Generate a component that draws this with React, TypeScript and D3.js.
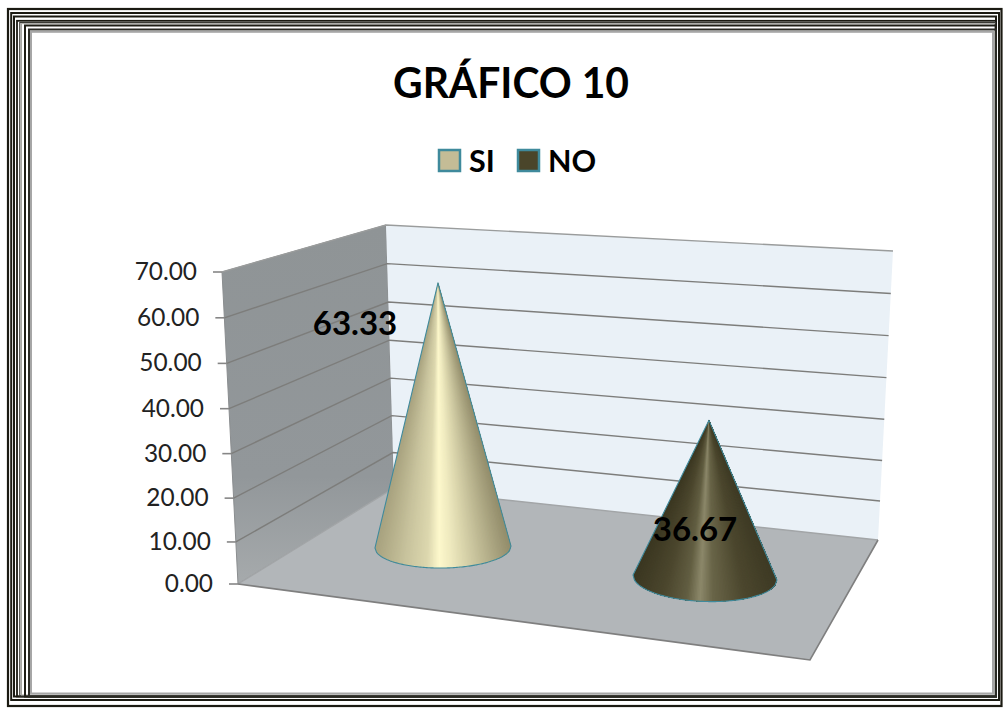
import React from "react";
import * as d3 from "d3";

// Chart content
const chartTitle = "GRÁFICO 10";
const categories = ["SI", "NO"];
const seriesValues = [63.33, 36.67];
const axisTicks = [0, 10, 20, 30, 40, 50, 60, 70];
const legendFills = ["#c4bc96", "#4a452a"];

const W = 1003;
const H = 708;
const sans = "Lato, 'Open Sans', sans-serif";
const TEAL = "#3f8a9c";

type Pt = [number, number];
const pathLine = d3.line<Pt>();
const poly = (pts: Pt[]) => pathLine(pts) + "Z";

// Corners of the 3D box: each vertical edge runs from the value 0 to the value 70.
const frontEdge: [Pt, Pt] = [[238, 584], [222, 272]];
const backEdge: [Pt, Pt] = [[394, 488], [386, 225]];
const rightEdge: [Pt, Pt] = [[878, 540], [893, 251]];
const floorFront: Pt = [810, 660];

// Slightly non-linear so tick spacing grows towards the top of the box.
const edgeScale = (edge: [Pt, Pt]) => {
  const t = d3.scalePow().exponent(1.03).domain([0, 70]).range([0, 1]);
  return (v: number): Pt => [
    edge[0][0] + (edge[1][0] - edge[0][0]) * t(v),
    edge[0][1] + (edge[1][1] - edge[0][1]) * t(v),
  ];
};
const onFront = edgeScale(frontEdge);
const onBack = edgeScale(backEdge);
const onRight = edgeScale(rightEdge);

// Placement of each cone on the floor, and the height of the full axis at its depth.
const coneLayout = [
  { cx: 443, cy: 547, rx: 68, ry: 21, tilt: -0.8, lean: -5, fullH: 292 },
  { cx: 705, cy: 577.5, rx: 72, ry: 24, tilt: 2, lean: 4, fullH: 300 },
];
const coneShadeAt = [0, 0.22, 0.38, 0.47, 0.56, 0.78, 1];
const coneShades = [
  ["#a8a27f", "#c8c39d", "#dcd7ae", "#fdf8cc", "#eee9be", "#c0bb95", "#938d6b"],
  ["#3b3721", "#4c472e", "#625e42", "#8c886a", "#696548", "#4c472e", "#3e3a24"],
];
const SLICES = 90;

// Nested page border, outermost first: left, top, right, bottom, stroke width, colour.
const borderRings: [number, number, number, number, number, string][] = [
  [8, 9, 1001.5, 706, 2.2, "#1b1a12"],
  [11.2, 13, 999, 700, 2, "#1b1a12"],
  [14, 16.5, 996, 696.5, 2, "#1b1a12"],
  [17, 20.8, 996, 696.5, 1.8, "#1b1a12"],
  [19.8, 22.5, 995.5, 696, 1.2, "#3a3a34"],
  [21.5, 23.6, 994.5, 695, 1, "#a8a8a4"],
  [25, 25.5, 996, 696.5, 2, "#1f1e16"],
  [29, 29.5, 996, 696.5, 2, "#2a2a24"],
  [31, 31.8, 993, 693.5, 2, "#a6a6a6"],
];

export default function App() {
  const fmt = d3.format(".2f");

  // Apex and lower rim of a cone, the rim sampled from left to right.
  const coneGeometry = (i: number) => {
    const c = coneLayout[i];
    const h = d3.scaleLinear().domain([0, 70]).range([c.cy, c.cy - c.fullH]);
    const a = (c.tilt * Math.PI) / 180;
    const rim = d3.range(SLICES + 1).map((k): Pt => {
      const s = (2 * k) / SLICES - 1;
      const ex = c.rx * s;
      const ey = c.ry * Math.sqrt(Math.max(0, 1 - s * s));
      return [c.cx + ex * Math.cos(a) - ey * Math.sin(a), c.cy + ex * Math.sin(a) + ey * Math.cos(a)];
    });
    const apex: Pt = [c.cx + c.lean, h(seriesValues[i])];
    return { apex, rim };
  };

  return (
    <svg
      width={W}
      height={H}
      viewBox={`0 0 ${W} ${H}`}
      style={{ position: "absolute", left: 0, top: 0, background: "#fff" }}
    >
      <defs>
        <linearGradient id="leftWall" x1="0" y1="0" x2="0" y2="1">
          <stop offset="0" stopColor="#8f9496" />
          <stop offset="0.7" stopColor="#92979a" />
          <stop offset="1" stopColor="#a6aaac" />
        </linearGradient>
      </defs>

      {/* Page border */}
      {borderRings.map(([l, t, r, b, sw, col], i) => (
        <rect key={i} x={l} y={t} width={r - l} height={b - t} fill="none" stroke={col} strokeWidth={sw} />
      ))}

      {/* Title and legend */}
      <text x={511} y={98} textAnchor="middle" fontFamily={sans} fontWeight={700} fontSize={41.5} textLength={236} lengthAdjust="spacingAndGlyphs" fill="#000">
        {chartTitle}
      </text>
      {categories.map((name, i) => {
        const x = [439, 518][i];
        return (
          <g key={name}>
            <rect x={x} y={150} width={21} height={21} fill={legendFills[i]} stroke={TEAL} strokeWidth={2.5} />
            <text x={x + 30} y={171.5} fontFamily={sans} fontWeight={700} fontSize={30.5} fill="#000">
              {name}
            </text>
          </g>
        );
      })}

      {/* Walls and floor */}
      <path d={poly([onFront(0), onFront(70), onBack(70), onBack(0)])} fill="url(#leftWall)" stroke="#8a8d8f" strokeWidth={1} />
      <path d={poly([onBack(0), onBack(70), onRight(70), onRight(0)])} fill="#eaf1f7" stroke="none" />
      <path d={poly([onFront(0), onBack(0), onRight(0), floorFront])} fill="#b2b6b9" stroke="none" />

      {/* Gridlines, tick marks and axis labels */}
      {axisTicks.map((v) => {
        const f = onFront(v);
        const b = onBack(v);
        const r = onRight(v);
        return (
          <g key={v}>
            <path d={pathLine([f, b, r])!} fill="none" stroke={v === 0 ? "#a2a5a7" : v === 70 ? "#9a9c9c" : "#7d7d7b"} strokeWidth={1.4} />
            <path d={pathLine([[f[0] - 9, f[1]], f])!} fill="none" stroke="#868686" strokeWidth={1.6} />
            <text x={f[0] - 25} y={f[1] + 8} textAnchor="end" fontFamily={sans} fontSize={24.4} fill="#222">
              {fmt(v)}
            </text>
          </g>
        );
      })}

      {/* Floor edges nearest the viewer */}
      <path d={pathLine([onFront(0), floorFront, onRight(0)])!} fill="none" stroke="#7f7f7f" strokeWidth={1.6} />

      {/* Cones: shading converges on the apex; wedges are painted left to right,
          each one covering the rest of the cone, so no seams show between them */}
      {categories.map((name, i) => {
        const { apex, rim } = coneGeometry(i);
        const shade = d3
          .scaleLinear<string>()
          .domain(coneShadeAt)
          .range(coneShades[i])
          .interpolate(d3.interpolateRgb);
        return (
          <g key={name}>
            {rim.slice(1).map((_, k) => (
              <path key={k} d={poly([apex, ...rim.slice(k)])} fill={shade((k + 0.5) / SLICES)} />
            ))}
            <path d={poly([apex, ...rim])} fill="none" stroke={TEAL} strokeWidth={1.1} strokeLinejoin="round" />
          </g>
        );
      })}

      {/* Data labels */}
      {seriesValues.map((v, i) => (
        <text key={i} x={[355, 695][i]} y={[335, 541][i]} textAnchor="middle" fontFamily={sans} fontWeight={700} fontSize={33} fill="#000">
          {fmt(v)}
        </text>
      ))}
    </svg>
  );
}
